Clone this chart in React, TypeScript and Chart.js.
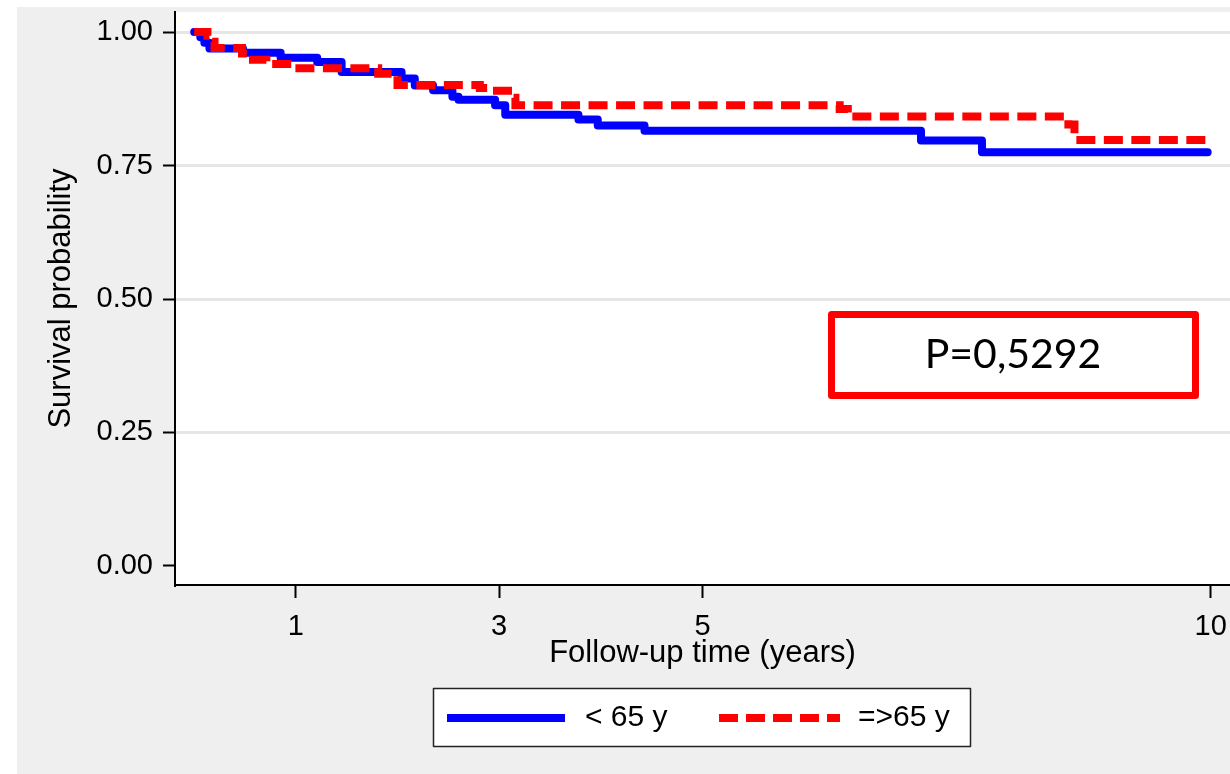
import React, { useEffect, useRef } from "react";
import { Chart, registerables } from "chart.js";

Chart.register(...registerables);

// ---- data ----
const seriesLabels = ["< 65 y", "=>65 y"];

const youngTimes = [0, 0.06, 0.1, 0.15, 0.48, 0.85, 1.21, 1.45, 2.04, 2.17, 2.35, 2.54, 2.6, 2.96, 3.06, 3.78, 3.97, 4.43, 7.15, 7.75, 9.97];
const youngSurvival = [1.0, 0.99, 0.98, 0.969, 0.961, 0.952, 0.944, 0.925, 0.913, 0.9, 0.891, 0.879, 0.873, 0.863, 0.845, 0.836, 0.825, 0.815, 0.797, 0.775, 0.775];

const oldTimes = [0, 0.13, 0.17, 0.2, 0.47, 0.53, 0.71, 0.98, 1.81, 2.0, 2.81, 2.89, 3.13, 3.16, 6.35, 6.43, 8.6, 8.66, 9.97];
const oldSurvival = [1.0, 0.993, 0.982, 0.97, 0.96, 0.948, 0.94, 0.932, 0.922, 0.901, 0.895, 0.89, 0.877, 0.863, 0.856, 0.842, 0.827, 0.798, 0.798];

const xTickValues = [1, 3, 5, 10];
const yTickValues = [0, 0.25, 0.5, 0.75, 1];
const xAxisTitle = "Follow-up time (years)";
const yAxisTitle = "Survival probability";
const pValueText = "P=0,5292";

const FONT = "'Liberation Sans', Arial, Helvetica, sans-serif";

export default function App() {
  const ref = useRef<HTMLCanvasElement>(null);

  useEffect(() => {
    const canvas = ref.current;
    if (!canvas) return;

    const bgPlugin = {
      id: "bgPlugin",
      beforeDraw(chart: any) {
        const { ctx, chartArea: a } = chart;
        ctx.save();
        ctx.fillStyle = "#ffffff";
        ctx.fillRect(0, 0, chart.width, chart.height);
        ctx.fillStyle = "#efefef";
        ctx.fillRect(17, 7, chart.width - 17, chart.height - 7);
        ctx.fillStyle = "#ffffff";
        ctx.fillRect(a.left, a.top, a.right - a.left, a.bottom - a.top);
        ctx.restore();
      },
    };

    const annoPlugin = {
      id: "annoPlugin",
      afterDraw(chart: any) {
        const { ctx } = chart;
        ctx.save();
        // P-value box
        ctx.lineWidth = 7;
        ctx.strokeStyle = "#ff0000";
        ctx.lineJoin = "round";
        ctx.fillStyle = "#ffffff";
        ctx.beginPath();
        ctx.rect(831.5, 314.5, 364, 81);
        ctx.fill();
        ctx.stroke();
        ctx.fillStyle = "#000000";
        ctx.font = "41px Lato, 'Open Sans', sans-serif";
        ctx.textAlign = "center";
        ctx.textBaseline = "middle";
        ctx.fillText(pValueText, 1013, 355);

        // Legend
        ctx.lineWidth = 1.5;
        ctx.strokeStyle = "#222222";
        ctx.fillStyle = "#ffffff";
        ctx.beginPath();
        ctx.rect(433.5, 688.5, 537, 58);
        ctx.fill();
        ctx.stroke();

        ctx.lineCap = "butt";
        ctx.lineWidth = 8;
        ctx.strokeStyle = "#0000ff";
        ctx.beginPath();
        ctx.moveTo(447, 718);
        ctx.lineTo(565, 718);
        ctx.stroke();

        ctx.strokeStyle = "#ff0000";
        ctx.setLineDash([19, 8]);
        ctx.beginPath();
        ctx.moveTo(719, 718);
        ctx.lineTo(840, 718);
        ctx.stroke();
        ctx.setLineDash([]);

        ctx.fillStyle = "#000000";
        ctx.font = `30px ${FONT}`;
        ctx.textAlign = "left";
        ctx.textBaseline = "middle";
        ctx.fillText(seriesLabels[0], 585, 718);
        ctx.fillText(seriesLabels[1], 858, 718);
        ctx.restore();
      },
    };

    const chart = new Chart(canvas, {
      type: "line",
      data: {
        datasets: [
          {
            label: seriesLabels[0],
            data: youngTimes.map((t, i) => ({ x: t, y: youngSurvival[i] })),
            borderColor: "#0000ff",
            backgroundColor: "#0000ff",
            borderWidth: 8,
            borderCapStyle: "round",
            borderJoinStyle: "round",
            stepped: true,
            pointRadius: 0,
            fill: false,
            order: 1,
          },
          {
            label: seriesLabels[1],
            data: oldTimes.map((t, i) => ({ x: t, y: oldSurvival[i] })),
            borderColor: "#ff0000",
            backgroundColor: "#ff0000",
            borderWidth: 8,
            borderDash: [19, 8.5],
            borderCapStyle: "butt",
            borderJoinStyle: "miter",
            stepped: true,
            pointRadius: 0,
            fill: false,
            order: 0,
          },
        ],
      },
      options: {
        responsive: false,
        animation: false,
        devicePixelRatio: 1,
        layout: { padding: { top: 12, left: 0, right: 0, bottom: 0 } },
        plugins: {
          legend: { display: false },
          tooltip: { enabled: false },
          title: { display: false },
        },
        scales: {
          x: {
            type: "linear",
            min: -0.189,
            max: 10.19,
            afterFit(scale: any) {
              scale.height = 189;
              scale.paddingLeft = 0;
              scale.paddingRight = 0;
            },
            afterBuildTicks(scale: any) {
              scale.ticks = xTickValues.map((v) => ({ value: v }));
            },
            ticks: {
              autoSkip: false,
              maxRotation: 0,
              padding: 12,
              color: "#000000",
              font: { family: FONT, size: 29 },
              callback: (v: any) => String(v),
            },
            grid: {
              display: true,
              drawOnChartArea: false,
              color: "#000000",
              tickColor: "#000000",
              tickLength: 13,
              tickWidth: 2,
            },
            border: { display: true, color: "#000000", width: 2 },
            title: {
              display: true,
              text: xAxisTitle,
              color: "#000000",
              font: { family: FONT, size: 31, lineHeight: 1.2 },
              padding: { top: 0, bottom: 102 },
            },
          },
          y: {
            type: "linear",
            min: -0.0356,
            max: 1.0375,
            afterFit(scale: any) {
              scale.width = 175;
              scale.paddingTop = 0;
              scale.paddingBottom = 0;
            },
            afterBuildTicks(scale: any) {
              scale.ticks = yTickValues.map((v) => ({ value: v }));
            },
            ticks: {
              autoSkip: false,
              padding: 10,
              color: "#000000",
              font: { family: FONT, size: 29 },
              callback: (v: any) => Number(v).toFixed(2),
            },
            grid: {
              display: true,
              color: (c: any) => (c.tick && c.tick.value === 0 ? "rgba(0,0,0,0)" : "#e6e6e6"),
              lineWidth: 3,
              tickColor: "#000000",
              tickLength: 12,
              tickWidth: 2,
            },
            border: { display: true, color: "#000000", width: 2 },
            title: {
              display: true,
              text: yAxisTitle,
              color: "#000000",
              font: { family: FONT, size: 31, lineHeight: 1.2 },
              padding: { top: 43, bottom: 0 },
            },
          },
        },
      },
      plugins: [bgPlugin, annoPlugin],
    } as any);

    return () => chart.destroy();
  }, []);

  return (
    <canvas
      ref={ref}
      width={1230}
      height={774}
      style={{ position: "absolute", left: 0, top: 0, width: 1230, height: 774 }}
    />
  );
}
